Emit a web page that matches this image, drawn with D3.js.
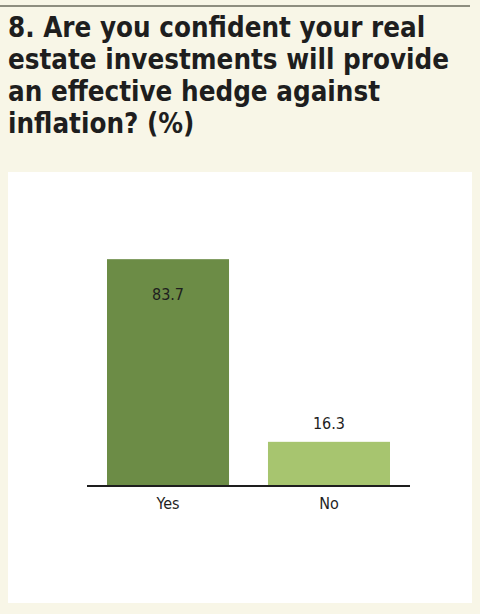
<!DOCTYPE html>
<html><head><meta charset="utf-8">
<script src="https://cdn.jsdelivr.net/npm/d3@7"></script>
<style>body{margin:0;background:#f8f6e7}</style>
</head><body>
<svg id="chart" width="480" height="614"></svg>
<script>
const categories = ['Yes', 'No']
const values = [83.7, 16.3]
const colors = ['#6c8c46', '#a7c56f']
const titleLines = ['8. Are you confident your real', 'estate investments will provide', 'an effective hedge against', 'inflation? (%)']

const svg = d3.select('#chart')
svg.append('rect').attr('width', 480).attr('height', 614).attr('fill', '#f8f6e7')
svg.append('line').attr('x1', 0).attr('x2', 470).attr('y1', 6).attr('y2', 6).attr('stroke', '#6b6b5e').attr('stroke-width', 1.5)

svg.selectAll('text.title').data(titleLines).join('text')
  .attr('class', 'title')
  .attr('x', 8).attr('y', (d, i) => 37 + i * 32)
  .attr('font-family', 'DejaVu Sans Condensed, DejaVu Sans')
  .attr('font-weight', 'bold').attr('font-size', 27.5)
  .attr('fill', '#1e1e1e')
  .text(d => d)

svg.append('rect').attr('x', 8).attr('y', 172).attr('width', 464).attr('height', 431).attr('fill', '#ffffff')

const x = d3.scaleBand().domain(categories).range([107, 390]).paddingInner(0.242).paddingOuter(0)
const y = d3.scaleLinear().domain([0, 100]).range([486, 215])

svg.selectAll('rect.bar').data(values).join('rect')
  .attr('class', 'bar')
  .attr('x', (d, i) => x(categories[i])).attr('width', x.bandwidth())
  .attr('y', d => y(d)).attr('height', d => y(0) - y(d))
  .attr('fill', (d, i) => colors[i])

svg.selectAll('text.val').data(values).join('text')
  .attr('class', 'val')
  .attr('x', (d, i) => x(categories[i]) + x.bandwidth() / 2)
  .attr('y', d => d > 50 ? y(d) + 41 : y(d) - 13)
  .attr('text-anchor', 'middle')
  .attr('font-family', 'DejaVu Sans Condensed, DejaVu Sans').attr('font-size', 16)
  .attr('fill', '#1e1e1e')
  .text(d => d.toFixed(1))

const axis = svg.append('g').attr('transform', `translate(0,${y(0)})`)
  .call(d3.axisBottom(x).tickSize(0).tickPadding(12))
axis.select('.domain').remove()
axis.selectAll('text').attr('font-family', 'DejaVu Sans Condensed, DejaVu Sans').attr('font-size', 16).attr('fill', '#1e1e1e')
svg.append('line').attr('x1', 87).attr('x2', 410).attr('y1', y(0)).attr('y2', y(0)).attr('stroke', '#1e1e1e').attr('stroke-width', 2)
</script>
</body></html>
